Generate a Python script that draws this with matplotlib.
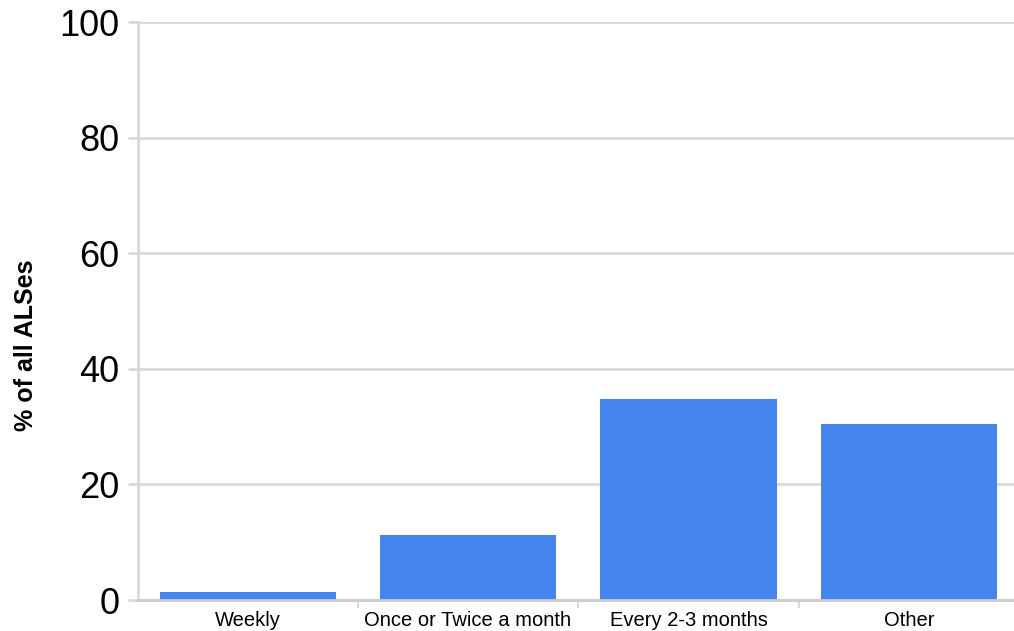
import matplotlib
matplotlib.use("Agg")
import matplotlib.pyplot as plt
import numpy as np

# -----------------------------
# Data
# -----------------------------
categories = ["Weekly", "Once or Twice a month", "Every 2-3 months", "Other"]
percent = [1.4, 11.2, 34.7, 30.5]
y_ticks = [0, 20, 40, 60, 80, 100]

plt.rcParams["font.family"] = ["Liberation Sans", "DejaVu Sans"]

W, H = 1014, 631
fig = plt.figure(figsize=(W / 100, H / 100), dpi=100)
left, right, top, bottom = 137.5, 1019.0, 22.0, 600.0
ax = fig.add_axes([left / W, 1 - bottom / H, (right - left) / W, (bottom - top) / H])

grid_color = "#d9d9d9"
x = np.arange(len(categories))
ax.bar(x, percent, width=0.8, color="#4684ee", zorder=3)

ax.set_xlim(-0.5, len(categories) - 0.5)
ax.set_ylim(0, 100)
ax.set_yticks(y_ticks)
ax.set_yticklabels([str(v) for v in y_ticks], fontsize=26)
for v in y_ticks:
    ax.axhline(v, color=grid_color, linewidth=2, zorder=1)

ax.set_xticks(x)
ax.set_xticklabels(categories, fontsize=14.5)
ax.set_xticks(np.arange(0.5, len(categories) - 1, 1.0), minor=True)
ax.tick_params(axis="x", which="major", length=0, pad=8)
ax.tick_params(axis="x", which="minor", length=6, width=1.5, color=grid_color)
ax.tick_params(axis="y", length=7, width=2, color=grid_color, pad=6)

# axis title sits a bit below the plot centre in the original
fig.text(26 / W, 1 - 345 / H, "% of all ALSes", fontsize=18, fontweight="bold",
         rotation=90, ha="center", va="center")

for s in ["top", "right"]:
    ax.spines[s].set_visible(False)
ax.spines["left"].set_color(grid_color)
ax.spines["left"].set_linewidth(2)
ax.spines["bottom"].set_color("#cccccc")
ax.spines["bottom"].set_linewidth(2)
ax.spines["bottom"].set_zorder(4)

fig.savefig("out.png", dpi=100)
